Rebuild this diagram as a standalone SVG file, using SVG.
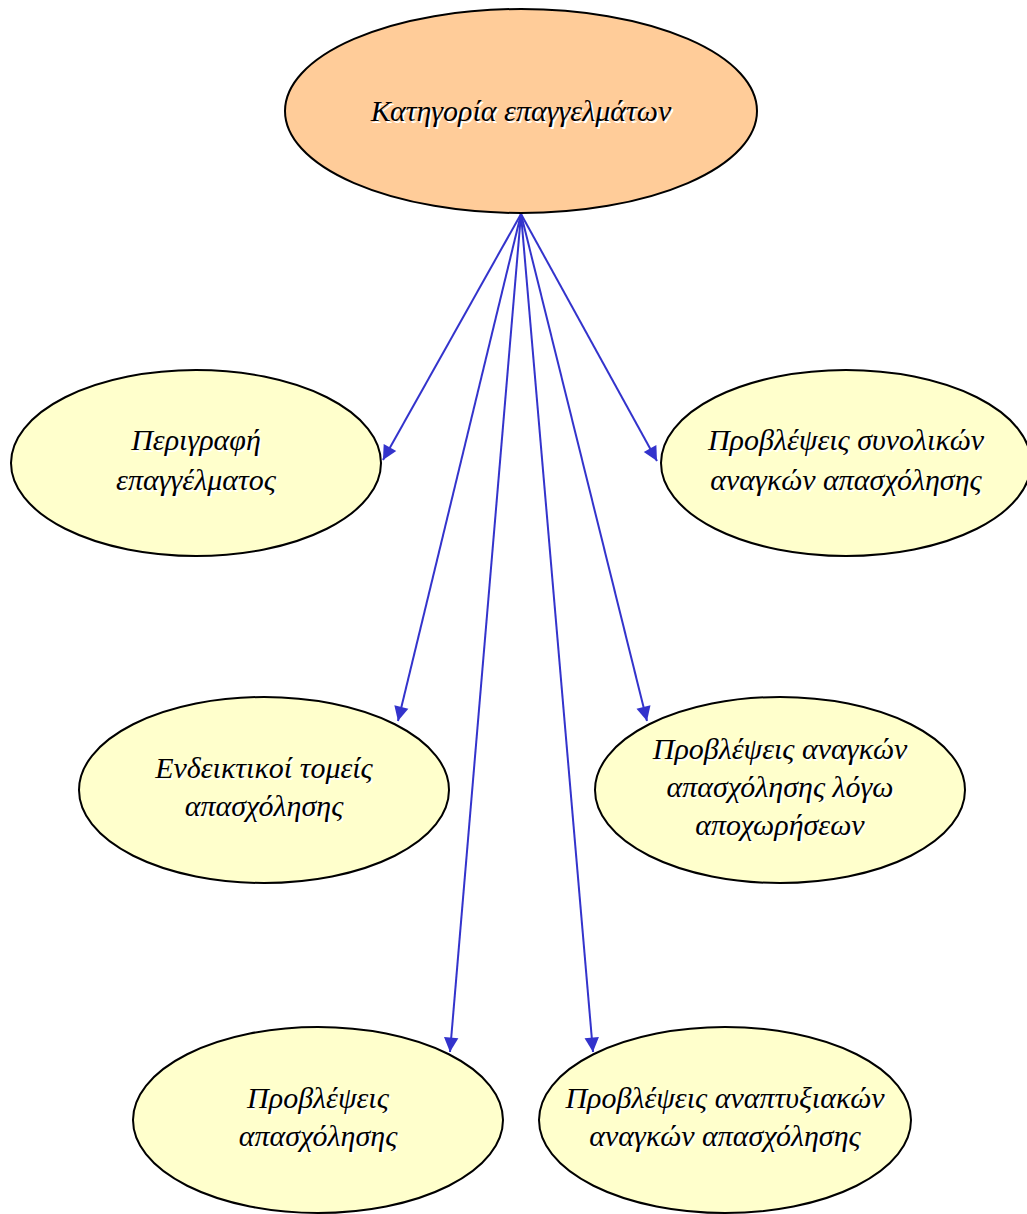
<svg xmlns="http://www.w3.org/2000/svg" width="1027" height="1214" viewBox="0 0 1027 1214">
<defs>
<style>
.n{fill:#ffffcc;stroke:#000;stroke-width:2}
.top{fill:#ffcc99;stroke:#000;stroke-width:2}
.e{stroke:#3333cc;stroke-width:2;fill:none;marker-end:url(#ah)}
text{font-family:"Liberation Serif","DejaVu Serif",serif;font-style:italic;font-size:30px;text-anchor:middle}
.sh{fill:#fff}
.t{fill:#000}
</style>
<marker id="ah" viewBox="0 0 10 10" refX="10" refY="5" markerWidth="8" markerHeight="8" markerUnits="userSpaceOnUse" orient="auto" style="overflow:visible">
<path d="M0,0 L10,5 L0,10 z" fill="#3333cc" transform="scale(1.8) translate(-4.4,-2.2)"/>
</marker>
</defs>
<g id="edges">
<line class="e" x1="521" y1="214" x2="383" y2="460"/>
<line class="e" x1="521" y1="214" x2="657" y2="461"/>
<line class="e" x1="521" y1="214" x2="398" y2="721"/>
<line class="e" x1="521" y1="214" x2="647" y2="721"/>
<line class="e" x1="521" y1="214" x2="450" y2="1052"/>
<line class="e" x1="521" y1="214" x2="593" y2="1052"/>
</g>
<g id="n0">
<ellipse class="top" cx="521" cy="111" rx="236" ry="102"/>
<text class="sh" x="523" y="123">Κατηγορία επαγγελμάτων</text>
<text class="t" x="521" y="121">Κατηγορία επαγγελμάτων</text>
</g>
<g id="n1">
<ellipse class="n" cx="196" cy="463" rx="185" ry="93"/>
<text class="sh" x="198" y="452">Περιγραφή</text><text class="t" x="196" y="450">Περιγραφή</text>
<text class="sh" x="198" y="492">επαγγέλματος</text><text class="t" x="196" y="490">επαγγέλματος</text>
</g>
<g id="n2">
<ellipse class="n" cx="846" cy="463" rx="185" ry="93"/>
<text class="sh" x="848" y="452">Προβλέψεις συνολικών</text><text class="t" x="846" y="450">Προβλέψεις συνολικών</text>
<text class="sh" x="848" y="492">αναγκών απασχόλησης</text><text class="t" x="846" y="490">αναγκών απασχόλησης</text>
</g>
<g id="n3">
<ellipse class="n" cx="264" cy="790" rx="185" ry="93"/>
<text class="sh" x="266" y="780">Ενδεικτικοί τομείς</text><text class="t" x="264" y="778">Ενδεικτικοί τομείς</text>
<text class="sh" x="266" y="818">απασχόλησης</text><text class="t" x="264" y="816">απασχόλησης</text>
</g>
<g id="n4">
<ellipse class="n" cx="780" cy="790" rx="185" ry="93"/>
<text class="sh" x="782" y="761">Προβλέψεις αναγκών</text><text class="t" x="780" y="759">Προβλέψεις αναγκών</text>
<text class="sh" x="782" y="799">απασχόλησης λόγω</text><text class="t" x="780" y="797">απασχόλησης λόγω</text>
<text class="sh" x="782" y="837">αποχωρήσεων</text><text class="t" x="780" y="835">αποχωρήσεων</text>
</g>
<g id="n5">
<ellipse class="n" cx="318" cy="1120" rx="185" ry="93"/>
<text class="sh" x="320" y="1110">Προβλέψεις</text><text class="t" x="318" y="1108">Προβλέψεις</text>
<text class="sh" x="320" y="1148">απασχόλησης</text><text class="t" x="318" y="1146">απασχόλησης</text>
</g>
<g id="n6">
<ellipse class="n" cx="725" cy="1120" rx="186" ry="93"/>
<text class="sh" x="727" y="1110">Προβλέψεις αναπτυξιακών</text><text class="t" x="725" y="1108">Προβλέψεις αναπτυξιακών</text>
<text class="sh" x="727" y="1148">αναγκών απασχόλησης</text><text class="t" x="725" y="1146">αναγκών απασχόλησης</text>
</g>
</svg>
